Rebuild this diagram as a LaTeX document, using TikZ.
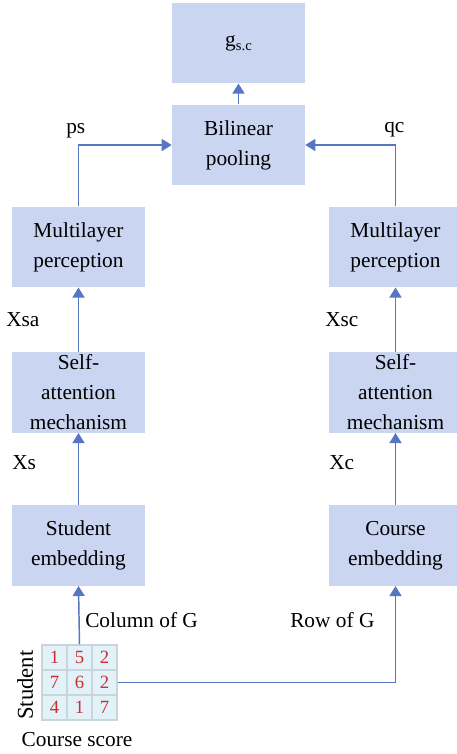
\documentclass[tikz,border=0pt]{standalone}
\usepackage{fontspec}
\setmainfont{Liberation Serif}
\usetikzlibrary{arrows.meta}
\definecolor{boxfill}{HTML}{C9D5F1}
\definecolor{linec}{HTML}{5676C4}
\definecolor{cellfill}{HTML}{E3F1F8}
\definecolor{celldraw}{HTML}{C8D6DC}
\definecolor{numred}{HTML}{C8312F}
\tikzset{
  blockbox/.style={fill=boxfill, draw=none, minimum width=99.75pt, minimum height=60.4pt,
    align=center, inner sep=0pt, font=\fontsize{16}{22.5}\selectfont},
  conn/.style={draw=linec, line width=1.1pt, -{Triangle[width=9pt,length=7.5pt]}},
  lbl/.style={inner sep=0pt, anchor=west, font=\fontsize{16}{18}\selectfont},
  cellbox/.style={fill=cellfill, draw=celldraw, line width=0.8pt, minimum size=18.75pt,
    inner sep=0pt, text=numred, font=\fontsize{14}{14}\selectfont}
}
\begin{document}
\begin{tikzpicture}[x=0.75pt,y=-0.75pt]
\useasboundingbox (0,0) rectangle (457,754);
% boxes
\node[blockbox] (g) at (238.5,43) {g\raisebox{-0.4ex}{\fontsize{11}{11}\selectfont s.c}};
\node[blockbox] (bil) at (238.5,145) {Bilinear\\pooling};
\node[blockbox] (lmlp) at (78.5,247) {Multilayer\\perception};
\node[blockbox] (lsa) at (78.5,392.5) {Self-\\attention\\mechanism};
\node[blockbox] (lemb) at (78.5,545.5) {Student\\embedding};
\node[blockbox] (rmlp) at (395.5,247) {Multilayer\\perception};
\node[blockbox] (rsa) at (395.5,392.5) {Self-\\attention\\mechanism};
\node[blockbox] (remb) at (395.5,545.5) {Course\\embedding};
% matrix cells
\node[cellbox] (c11) at (54.5,657.5) {1};
\node[cellbox] (c12) at (79.5,657.5) {5};
\node[cellbox] (c13) at (104.5,657.5) {2};
\node[cellbox] (c21) at (54.5,682.5) {7};
\node[cellbox] (c22) at (79.5,682.5) {6};
\node[cellbox] (c23) at (104.5,682.5) {2};
\node[cellbox] (c31) at (54.5,707.5) {4};
\node[cellbox] (c32) at (79.5,707.5) {1};
\node[cellbox] (c33) at (104.5,707.5) {7};
% labels
\node[lbl] (lps) at (66,131) {ps};
\node[lbl] (lqc) at (384,130) {qc};
\node[lbl] (lxsa) at (6,320) {Xsa};
\node[lbl] (lxsc) at (325,320) {Xsc};
\node[lbl] (lxs) at (12,463) {Xs};
\node[lbl] (lxc) at (329,463) {Xc};
\node[lbl] (lcol) at (85,620) {Column of G};
\node[lbl] (lrow) at (290,620) {Row of G};
\node[inner sep=0pt, rotate=90, font=\fontsize{17}{18}\selectfont] (lstu) at (25,685) {Student};
\node[inner sep=0pt, font=\fontsize{16}{18}\selectfont] (lcs) at (77,740) {Course score};
% connectors
\draw[conn] (bil.north) -- (g.south);
\draw[conn] (lmlp.north) |- (bil.west);
\draw[conn] (rmlp.north) |- (bil.east);
\draw[conn] (lsa.north) -- (lmlp.south);
\draw[conn] (rsa.north) -- (rmlp.south);
\draw[conn] (lemb.north) -- (lsa.south);
\draw[conn] (remb.north) -- (rsa.south);
\draw[conn] (c12.north) -- (lemb.south);
\draw[conn] (c23.east) -| (remb.south);
\end{tikzpicture}
\end{document}
